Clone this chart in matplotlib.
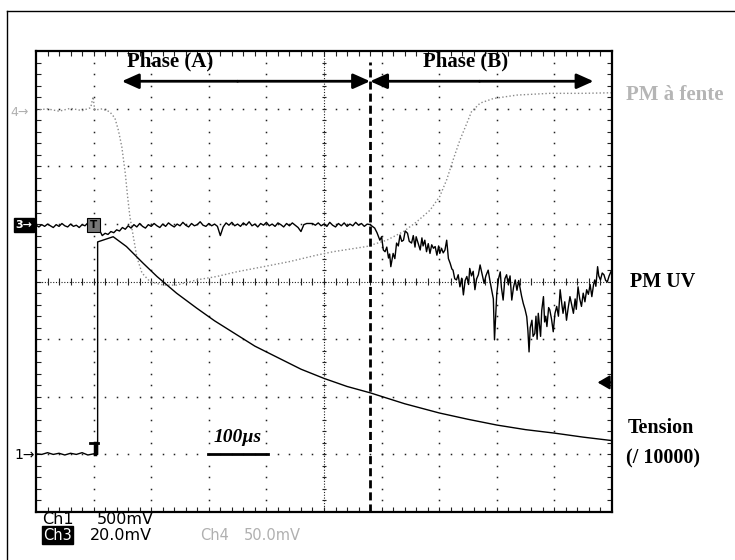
import numpy as np
import matplotlib
matplotlib.use('Agg')
import matplotlib.pyplot as plt
from matplotlib.lines import Line2D
from matplotlib.patches import Rectangle
from matplotlib.collections import LineCollection

W, H = 735, 560

# ---------------- data (graticule divisions: x 0..10, y -4..4) ----------------
# Ch1 "Tension" (/10000)
ch1_pre_x = [0.0, 0.1, 0.2, 0.3, 0.4, 0.5, 0.6, 0.7, 0.8, 0.9, 1.0, 1.07]
ch1_pre_y = [-2.99, -3.0, -2.97, -3.0, -2.98, -3.01, -2.98, -3.0, -2.97, -3.01, -2.99, -3.0]
tension_x = [1.07, 1.34, 1.57, 1.86, 2.10, 2.44, 2.79, 3.10, 3.45, 3.80, 4.28, 4.60,
             5.00, 5.40, 5.80, 6.40, 7.00, 7.50, 8.00, 8.50, 9.00, 9.50, 10.0]
tension_y = [0.69, 0.78, 0.61, 0.32, 0.09, -0.20, -0.46, -0.68, -0.90, -1.12, -1.36, -1.52,
             -1.68, -1.82, -1.93, -2.12, -2.28, -2.39, -2.49, -2.57, -2.63, -2.70, -2.76]

# Ch4 "PM a fente" (gray dotted)
pmf_x = [0.0, 0.2, 0.4, 0.6, 0.8, 0.95, 0.99, 1.02, 1.15, 1.28, 1.37, 1.43, 1.49, 1.55,
         1.59, 1.63, 1.69, 1.75, 1.84, 1.98, 2.21, 2.44, 2.79, 3.14, 3.48, 3.95, 4.41,
         4.87, 5.16, 5.74, 6.09, 6.38, 6.61, 6.84, 7.01, 7.13, 7.24, 7.36, 7.48, 7.56,
         7.71, 7.94, 8.35, 8.92, 9.50, 10.0]
pmf_y = [2.98, 3.00, 2.96, 3.01, 2.97, 3.02, 3.21, 2.98, 3.00, 2.95, 2.84, 2.63, 2.34, 1.88,
         1.48, 1.13, 0.78, 0.43, 0.15, 0.00, -0.06, -0.06, 0.03, 0.09, 0.17, 0.26, 0.35,
         0.46, 0.52, 0.61, 0.72, 0.87, 1.04, 1.24, 1.48, 1.77, 2.11, 2.46, 2.75, 2.95,
         3.10, 3.18, 3.24, 3.27, 3.27, 3.28]

# Ch3 "PM UV" - phase before the dashed line, one value every 0.05 div
pmuv_a_y = [0.98, 0.95, 0.99, 0.96, 1.00, 0.97, 0.94, 0.99, 0.96, 1.01,
            0.97, 0.95, 1.00, 0.96, 0.98, 0.94, 0.99, 0.97, 1.02, 0.98,
            0.99, 1.03, 0.90, 0.80, 0.84, 0.82, 0.87, 0.85, 0.90, 0.88,
            0.94, 0.91, 0.97, 0.93, 0.99, 0.95, 1.01, 0.96, 0.93, 0.99,
            0.96, 1.01, 0.97, 0.94, 1.00, 0.96, 1.02, 0.98, 0.95, 1.00,
            0.97, 1.03, 0.98, 0.95, 1.01, 0.97, 0.99, 1.04, 0.98, 0.96,
            1.01, 0.97, 1.00, 0.96, 0.80, 0.95, 1.02, 0.98, 1.03, 0.97,
            1.00, 0.96, 1.02, 0.98, 1.04, 0.97, 1.00, 0.95, 1.01, 0.98,
            1.03, 0.97, 1.00, 0.96, 1.02, 0.99, 0.95, 1.01, 0.97, 1.02,
            0.98, 0.94, 0.87, 0.99, 1.01, 1.01, 1.01, 0.98, 1.02, 0.97,
            1.00, 0.96, 1.03, 0.98, 0.95, 1.01, 0.97, 1.02, 0.96, 1.00,
            0.97, 1.03, 0.98, 1.01, 0.96, 1.00]
# Ch3 "PM UV" - phase (B)
pmuv_b_x = [5.80, 5.84, 5.88, 5.92, 5.97, 6.00, 6.03, 6.06, 6.09, 6.12,
            6.14, 6.16, 6.18, 6.20, 6.23, 6.26, 6.29, 6.32, 6.35, 6.38,
            6.41, 6.45, 6.48, 6.52, 6.55, 6.58, 6.60, 6.63, 6.67, 6.70,
            6.72, 6.75, 6.78, 6.81, 6.84, 6.87, 6.90, 6.93, 6.96, 6.99,
            7.01, 7.04, 7.07, 7.10, 7.13, 7.16, 7.19, 7.22, 7.24, 7.27,
            7.30, 7.33, 7.36, 7.39, 7.42, 7.45, 7.48, 7.51, 7.53, 7.56,
            7.59, 7.62, 7.65, 7.68, 7.71, 7.74, 7.78, 7.81, 7.85, 7.88,
            7.91, 7.94, 7.96, 7.98, 8.00, 8.03, 8.06, 8.08, 8.11, 8.14,
            8.17, 8.20, 8.23, 8.26, 8.29, 8.32, 8.35, 8.38, 8.40, 8.43,
            8.46, 8.49, 8.52, 8.54, 8.56, 8.58, 8.61, 8.63, 8.66, 8.68,
            8.70, 8.72, 8.74, 8.76, 8.78, 8.81, 8.83, 8.85, 8.87, 8.90,
            8.92, 8.95, 8.98, 9.01, 9.04, 9.07, 9.10, 9.13, 9.15, 9.18,
            9.21, 9.24, 9.27, 9.30, 9.33, 9.36, 9.38, 9.41, 9.44, 9.47,
            9.50, 9.53, 9.56, 9.59, 9.62, 9.65, 9.68, 9.70, 9.72, 9.75,
            9.77, 9.80, 9.83, 9.86, 9.89, 9.92, 9.95, 9.98, 10.0]
pmuv_b_y = [0.99, 0.96, 0.93, 0.85, 0.72, 0.78, 0.55, 0.52, 0.60, 0.41,
            0.48, 0.26, 0.38, 0.49, 0.40, 0.67, 0.62, 0.81, 0.70, 0.72,
            0.88, 0.84, 0.70, 0.67, 0.80, 0.60, 0.78, 0.68, 0.55, 0.76,
            0.62, 0.72, 0.52, 0.66, 0.49, 0.64, 0.58, 0.61, 0.46, 0.62,
            0.49, 0.58, 0.50, 0.55, 0.72, 0.40, 0.32, 0.22, 0.20, 0.05,
            0.03, 0.12, -0.09, 0.06, -0.23, 0.02, 0.09, -0.05, 0.23, 0.10,
            0.18, -0.14, 0.05, 0.12, 0.29, 0.15, -0.03, 0.10, 0.20, 0.02,
            -0.14, -0.30, -1.01, -0.60, -0.20, 0.05, 0.17, -0.10, -0.32, 0.05,
            0.12, -0.05, 0.10, -0.32, -0.10, 0.03, -0.15, 0.02, -0.09, -0.25,
            -0.38, -0.48, -0.61, -0.85, -1.22, -0.80, -0.67, -0.95, -0.90, -0.60,
            -1.00, -0.55, -0.75, -0.95, -0.50, -0.26, -0.70, -0.60, -0.78, -0.45,
            -0.49, -0.65, -0.87, -0.55, -0.43, -0.60, -0.14, -0.40, -0.55, -0.35,
            -0.67, -0.45, -0.26, -0.40, -0.55, -0.30, -0.48, -0.09, -0.30, -0.43,
            -0.20, -0.35, -0.14, -0.22, -0.05, -0.26, -0.05, 0.03, -0.08, 0.26,
            0.10, 0.03, 0.15, 0.12, 0.02, 0.00, 0.10, 0.17, 0.20]

phase_split = 5.8
phase_a_start = 1.49
phase_b_end = 9.68
arrow_y = 3.48

# ---------------- figure ----------------
fig = plt.figure(figsize=(W / 100, H / 100), dpi=100)
fig.patch.set_facecolor('white')
L, R, T, B = 36, 612, 51.3, 512
ax = fig.add_axes([L / W, 1 - B / H, (R - L) / W, (B - T) / H])
ax.set_xlim(0, 10)
ax.set_ylim(-4, 4)
ax.set_xticks([])
ax.set_yticks([])
for s in ax.spines.values():
    s.set_linewidth(1.6)
    s.set_color('black')

# graticule dots
gx, gy = [], []
for xv in [1, 2, 3, 4, 6, 7, 8, 9]:
    ys = np.arange(-4, 4.001, 0.2)
    gx += [xv] * len(ys); gy += list(ys)
for yv in [-3, -2, -1, 1, 2, 3]:
    xs = np.arange(0, 10.001, 0.2)
    gx += list(xs); gy += [yv] * len(xs)
ax.plot(gx, gy, linestyle='none', marker='s', ms=1.1, mew=0, color='#222222', zorder=1)

# center lines with minor ticks
ax.axhline(0, color='#222222', lw=0.8, ls=(0, (1, 1.5)), zorder=1)
ax.axvline(5, color='#222222', lw=0.8, ls=(0, (1, 1.5)), zorder=1)
segs = []
for xv in np.arange(0.2, 10, 0.2):
    segs.append([(xv, -0.06), (xv, 0.06)])
    segs.append([(xv, 4), (xv, 3.91)])
    segs.append([(xv, -4), (xv, -3.91)])
for yv in np.arange(-3.8, 4, 0.2):
    segs.append([(4.96, yv), (5.04, yv)])
    segs.append([(0, yv), (0.09, yv)])
    segs.append([(10, yv), (9.91, yv)])
ax.add_collection(LineCollection(segs, colors='#222222', linewidths=0.8, zorder=1))

# traces
ax.plot(pmf_x, pmf_y, color='#8a8a8a', lw=1.0, ls=(0, (1, 1.6)), zorder=2)
pmuv_a_x = np.arange(len(pmuv_a_y)) * 0.05
ax.plot(list(pmuv_a_x) + pmuv_b_x, pmuv_a_y + pmuv_b_y, color='black', lw=1.0, zorder=3)
ax.plot(ch1_pre_x + tension_x, ch1_pre_y + tension_y, color='black', lw=1.0, zorder=3)

# dashed separation line
ax.plot([phase_split, phase_split], [-4, 3.81], color='black', lw=2.0,
        ls=(0, (2.9, 1.45)), zorder=4)

# phase arrows
ap = dict(arrowstyle='-|>,head_length=0.85,head_width=0.38', color='black', lw=2.0,
          shrinkA=0, shrinkB=0, mutation_scale=12)
ax.annotate('', xy=(phase_split, arrow_y), xytext=(3.5, arrow_y), arrowprops=ap, zorder=5)
ax.annotate('', xy=(phase_a_start, arrow_y), xytext=(3.5, arrow_y), arrowprops=ap, zorder=5)
ax.annotate('', xy=(phase_split, arrow_y), xytext=(7.7, arrow_y), arrowprops=ap, zorder=5)
ax.annotate('', xy=(phase_b_end, arrow_y), xytext=(7.7, arrow_y), arrowprops=ap, zorder=5)

# trigger level marker (right)
ax.annotate('', xy=(9.75, -1.75), xytext=(10.0, -1.75),
            arrowprops=dict(arrowstyle='-|>,head_length=0.6,head_width=0.35', color='black',
                            lw=1.5, shrinkA=0, shrinkB=0, mutation_scale=12),
            annotation_clip=False, zorder=5)

# trigger T on ch1
ax.plot([0.93, 1.07], [-2.80, -2.80], color='black', lw=2.0, zorder=5)
ax.plot([1.03, 1.03], [-2.80, -3.0], color='black', lw=2.5, zorder=5)


def px(x, y):
    return x / W, 1 - y / H


serif = 'Liberation Serif'
fig.text(*px(170, 61), 'Phase (A)', family=serif, weight='bold', fontsize=15,
         ha='center', va='center')
fig.text(*px(466, 61), 'Phase (B)', family=serif, weight='bold', fontsize=15,
         ha='center', va='center')
fig.text(*px(675, 95), 'PM à fente', family=serif, weight='bold', fontsize=15,
         ha='center', va='center', color='#b5b5b5')
fig.text(*px(663, 282), 'PM UV', family=serif, weight='bold', fontsize=14.5,
         ha='center', va='center')
fig.text(*px(661, 428), 'Tension', family=serif, weight='bold', fontsize=14.5,
         ha='center', va='center')
fig.text(*px(663, 458), '(/ 10000)', family=serif, weight='bold', fontsize=14.5,
         ha='center', va='center')
fig.text(*px(238, 438), '100µs', family=serif, weight='bold', style='italic', fontsize=14,
         ha='center', va='center')
fig.add_artist(Line2D([208 / W, 268 / W], [1 - 454 / H, 1 - 454 / H], color='black', lw=2.0))

# channel markers
fig.text(*px(24, 225), '3→', family='DejaVu Sans', weight='bold', fontsize=8, color='white',
         ha='center', va='center',
         bbox=dict(boxstyle='square,pad=0.15', fc='black', ec='black'))
fig.text(*px(20, 112), '4→', family='DejaVu Sans', fontsize=9, color='#b0b0b0',
         ha='center', va='center')
fig.text(*px(25, 455), '1→', family='DejaVu Sans', fontsize=10, color='black',
         ha='center', va='center')
fig.add_artist(Rectangle(px(87, 232), 13 / W, 14 / H, transform=fig.transFigure,
                         fc='#777777', ec='black', lw=0.8, zorder=6))
fig.text(*px(93.5, 225), 'T', family='DejaVu Sans', weight='bold', fontsize=7.5,
         color='black', ha='center', va='center', zorder=7)

# bottom channel settings
fs = 11.5
fig.text(*px(42, 519), 'Ch1', family='DejaVu Sans', fontsize=fs, ha='left', va='center')
fig.text(*px(97, 519), '500mV', family='DejaVu Sans', fontsize=fs, ha='left', va='center')
fig.text(*px(43, 535), 'Ch3', family='DejaVu Sans', fontsize=10.5, color='white',
         ha='left', va='center', bbox=dict(boxstyle='square,pad=0.1', fc='black', ec='black'))
fig.text(*px(90, 535), '20.0mV', family='DejaVu Sans', fontsize=fs, ha='left', va='center')
fig.text(*px(200, 535), 'Ch4', family='DejaVu Sans', fontsize=10.5, color='#b0b0b0',
         ha='left', va='center')
fig.text(*px(244, 535), '50.0mV', family='DejaVu Sans', fontsize=10.5, color='#b0b0b0',
         ha='left', va='center')

# outer frame (left and top edges)
fig.add_artist(Line2D([7 / W, 7 / W], [0, 1 - 11 / H], color='black', lw=1.0))
fig.add_artist(Line2D([7 / W, 1], [1 - 11 / H, 1 - 11 / H], color='black', lw=1.0))

fig.savefig('out.png', dpi=100, facecolor='white')
